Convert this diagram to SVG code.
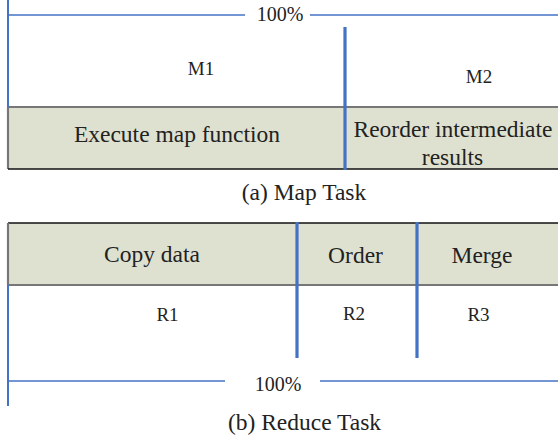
<svg xmlns="http://www.w3.org/2000/svg" width="558" height="441" viewBox="0 0 558 441">
<style>
.t{font-family:"Liberation Serif",serif;fill:#222;text-anchor:middle;font-weight:400}
.big{font-size:23.5px}
.sm{font-size:19px}
.pct{font-size:20px}
.band{fill:#dfe1d0}
.thin{stroke:#4472c4;stroke-width:1.3;fill:none}
.side{stroke:#4472c4;stroke-width:2;fill:none}
.div{stroke:#4472c4;stroke-width:3.2;fill:none}
.gray{stroke:#777;stroke-width:2.2;fill:none}
.blk{stroke:#111;stroke-width:1.5;fill:none}
</style>
<rect width="558" height="441" fill="#fff"/>
<g id="map-task">
<rect class="band" x="8" y="107" width="550" height="62"/>
<line class="gray" x1="8" y1="107" x2="558" y2="107"/>
<line class="gray" x1="8" y1="107" x2="8" y2="169"/>
<line class="blk" x1="8" y1="169" x2="558" y2="169"/>
<line class="side" x1="8" y1="0" x2="8" y2="107"/>
<text class="t big" x="177" y="142">Execute map function</text>
<text class="t big" x="453" y="137">Reorder intermediate</text>
<text class="t big" x="452.5" y="165">results</text>
<text class="t sm" x="201" y="75">M1</text>
<text class="t sm" x="479" y="83">M2</text>
<text class="t big" x="304" y="200">(a) Map Task</text>
</g>
<g id="reduce-task">
<rect class="band" x="8" y="223" width="550" height="62"/>
<line class="blk" x1="8" y1="223" x2="558" y2="223"/>
<line class="gray" x1="8" y1="223" x2="8" y2="285"/>
<line class="gray" x1="8" y1="285" x2="558" y2="285"/>
<line class="side" x1="8" y1="285" x2="8" y2="406"/>
<text class="t big" x="152" y="262">Copy data</text>
<text class="t big" x="355.5" y="263">Order</text>
<text class="t big" x="482" y="263">Merge</text>
<text class="t sm" x="167.5" y="321">R1</text>
<text class="t sm" x="354" y="320">R2</text>
<text class="t sm" x="478.5" y="321">R3</text>
<text class="t big" x="304.5" y="430">(b) Reduce Task</text>
</g>
<g id="connectors">
<line class="thin" x1="8" y1="15" x2="245" y2="15"/>
<line class="thin" x1="310" y1="15" x2="558" y2="15"/>
<text class="t pct" x="280" y="21">100%</text>
<line class="div" x1="345" y1="27" x2="345" y2="170"/>
<line class="div" x1="297" y1="222" x2="297" y2="358"/>
<line class="div" x1="417" y1="222" x2="417" y2="358"/>
<line class="thin" x1="8" y1="381" x2="225" y2="381"/>
<line class="thin" x1="320" y1="381" x2="558" y2="381"/>
<text class="t pct" x="278" y="391">100%</text>
</g>
</svg>
